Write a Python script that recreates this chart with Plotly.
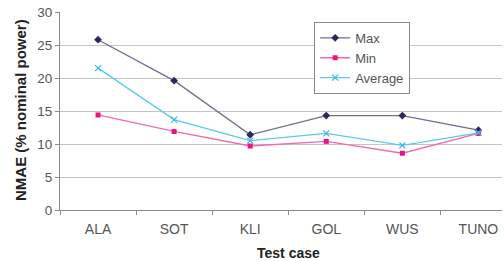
import plotly.graph_objects as go

categories = ["ALA", "SOT", "KLI", "GOL", "WUS", "TUNO"]
max_vals = [25.8, 19.6, 11.4, 14.3, 14.3, 12.1]
min_vals = [14.4, 11.9, 9.7, 10.4, 8.6, 11.6]
avg_vals = [21.5, 13.7, 10.5, 11.6, 9.8, 11.7]
y_ticks = [0, 5, 10, 15, 20, 25, 30]

FONT = "Liberation Sans, Arial, sans-serif"

fig = go.Figure()
fig.add_trace(go.Scatter(x=categories, y=max_vals, name="Max", mode="lines+markers",
                         line=dict(color="#6e6e8e", width=1.3),
                         marker=dict(symbol="diamond", size=6, color="#2a2a5a")))
fig.add_trace(go.Scatter(x=categories, y=min_vals, name="Min", mode="lines+markers",
                         line=dict(color="#f06ab0", width=1.3),
                         marker=dict(symbol="square", size=5, color="#e8147f")))
fig.add_trace(go.Scatter(x=categories, y=avg_vals, name="Average", mode="lines+markers",
                         line=dict(color="#5cc8f0", width=1.3),
                         marker=dict(symbol="x-thin", size=6, color="#3ab4ea",
                                     line=dict(width=1.2, color="#3ab4ea"))))

fig.update_layout(
    width=504, height=261,
    margin=dict(l=60, r=2, t=12, b=51, autoexpand=False),
    paper_bgcolor="white", plot_bgcolor="white",
    font=dict(family=FONT, size=13, color="#555555"),
    legend=dict(x=0.575, y=0.95, xanchor="left", yanchor="top",
                bgcolor="white", bordercolor="#8a8a8a", borderwidth=1,
                font=dict(size=13, color="#555555"), itemwidth=30,
                tracegroupgap=0),
    showlegend=True,
)
fig.update_xaxes(
    type="category", range=[-0.5, 5.31], automargin=False,
    showline=True, linecolor="#8a8a8a", linewidth=1,
    ticks="outside", tickson="boundaries", ticklen=4, tickcolor="#8a8a8a",
    showgrid=False, ticklabelstandoff=6,
    tickfont=dict(size=14, color="#555555"),
)
fig.update_yaxes(
    range=[0, 30], tickvals=y_ticks, automargin=False,
    showline=True, linecolor="#8a8a8a", linewidth=1,
    ticks="outside", ticklen=4, tickcolor="#8a8a8a",
    showgrid=True, gridcolor="#c4c4c4", gridwidth=1,
    zeroline=False,
    tickfont=dict(size=13.5, color="#555555"),
)
fig.add_annotation(text="<b>Test case</b>", xref="paper", yref="paper",
                   x=(288 - 60) / 442, y=(210 - 253) / 198, xanchor="center", yanchor="middle",
                   showarrow=False, font=dict(size=14, color="#222222", family=FONT))
fig.add_annotation(text="<b>NMAE (% nominal power)</b>", xref="paper", yref="paper",
                   x=(20 - 60) / 442, y=(210 - 110) / 198, xanchor="center", yanchor="middle",
                   textangle=-90,
                   showarrow=False, font=dict(size=15, color="#222222", family=FONT))

fig.write_html("out.html", config={"displayModeBar": False},
               post_script="document.body.style.margin='0';document.body.style.overflow='hidden';")
